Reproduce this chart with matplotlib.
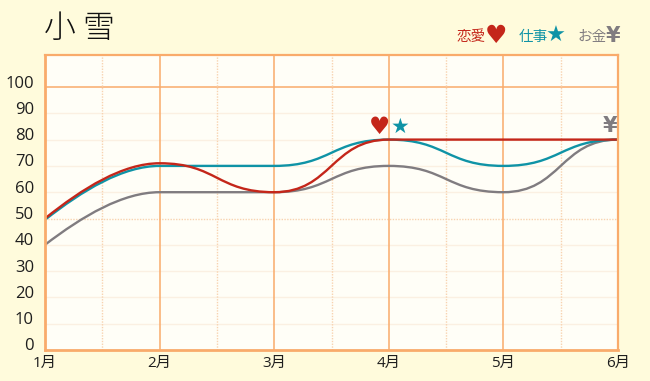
import matplotlib
matplotlib.use("Agg")
import matplotlib.pyplot as plt
from matplotlib.path import Path
from matplotlib.patches import PathPatch
from matplotlib.transforms import ScaledTranslation

months = ["1月", "2月", "3月", "4月", "5月", "6月"]
yticks = [0, 10, 20, 30, 40, 50, 60, 70, 80, 90, 100]
love = [50, 71, 60, 80, 80, 80]
work = [49.5, 70, 70, 80, 70, 80]
money = [40, 60, 60, 70, 60, 80]

W, H = 650, 381
BG = "#FFFBDC"; PANEL = "#FFFEF7"; OR = "#F9AB6B"; PALE = "#FBF0E2"; DOT = "#F8D3B0"
RED = "#C4261A"; TEAL = "#0F93A6"; GREY = "#807C80"; INK = "#1E1E1E"
LATIN = ["Open Sans", "Noto Sans CJK JP"]
CJK = ["Noto Sans CJK JP", "DejaVu Sans"]

fig = plt.figure(figsize=(W/100, H/100), dpi=100, facecolor=BG)
ax = fig.add_axes([45/W, 1-350/H, (618-45)/W, (350-55)/H], facecolor=PANEL)
x = list(range(len(months)))
ax.set_xlim(0, len(months)-1)
ax.set_ylim(0, 295/2.63)

for yv in yticks:
    if yv == 100:
        ax.axhline(yv, color=OR, lw=1.1, zorder=1)
    elif yv == 50:
        ax.axhline(yv, color=DOT, lw=1.0, ls=(0, (1, 1)), zorder=1)
    else:
        ax.axhline(yv, color=PALE, lw=1.0, zorder=1)
for i in x[:-1]:
    ax.axvline(i+0.5, color=DOT, lw=1.0, ls=(0, (1, 1)), zorder=1)
for i in x[1:-1]:
    ax.axvline(i, color=OR, lw=1.1, zorder=1)

def curve(vals, color, z):
    # smooth Bezier through the monthly values, flat at each interior month
    verts = [(0, vals[0])]
    codes = [Path.MOVETO]
    for i in range(len(vals)-1):
        if i == 0:
            c1 = (0.33, vals[0] + (vals[1]-vals[0])*0.55)
            c2 = (0.68, vals[1])
        else:
            c1 = (i+0.5, vals[i])
            c2 = (i+0.5, vals[i+1])
        verts += [c1, c2, (i+1, vals[i+1])]
        codes += [Path.CURVE4]*3
    ax.add_patch(PathPatch(Path(verts, codes), fc="none", ec=color, lw=1.7, zorder=z, capstyle="butt"))

curve(money, GREY, 3)
curve(work, TEAL, 4)
curve(love, RED, 5)

for s in ax.spines.values():
    s.set_color(OR); s.set_linewidth(1.6); s.set_zorder(6)
ax.spines["left"].set_linewidth(2); ax.spines["bottom"].set_linewidth(2)

ax.set_xticks(x, months, fontfamily=LATIN, fontsize=11, color=INK)
ax.set_yticks(yticks, [str(v) for v in yticks], fontfamily=LATIN, fontsize=12, color=INK)
ax.tick_params(length=0)
ax.tick_params(axis="x", pad=4.5)
ax.tick_params(axis="y", pad=8)
off = ScaledTranslation(0, 5.5/100, fig.dpi_scale_trans)
for lab in ax.get_yticklabels():
    lab.set_transform(lab.get_transform()+off)

def T(px, py, s, **k):
    fig.text(px/W, 1-py/H, s, ha=k.pop("ha", "center"), va="center", **k)

T(44, 29, "小 雪", ha="left", family=CJK, fontsize=23, color="#111111", fontweight="light")
T(471, 36.5, "恋愛", family=CJK, fontsize=10.5, color=RED)
T(496, 36, "♥", family="DejaVu Sans", fontsize=18, color=RED)
T(533, 36.5, "仕事", family=CJK, fontsize=10.5, color=TEAL)
T(556, 36, "★", family="DejaVu Sans", fontsize=16, color=TEAL)
T(592, 36.5, "お金", family=CJK, fontsize=10.5, color=GREY)
T(613, 36, "¥", family="DejaVu Sans", fontsize=15, color=GREY, fontweight="bold")
T(379, 127, "♥", family="DejaVu Sans", fontsize=17, color=RED)
T(400, 127, "★", family="DejaVu Sans", fontsize=15, color=TEAL)
T(610, 126.5, "¥", family="DejaVu Sans", fontsize=15, color=GREY, fontweight="bold")

fig.savefig("out.png", dpi=100, facecolor=BG)
